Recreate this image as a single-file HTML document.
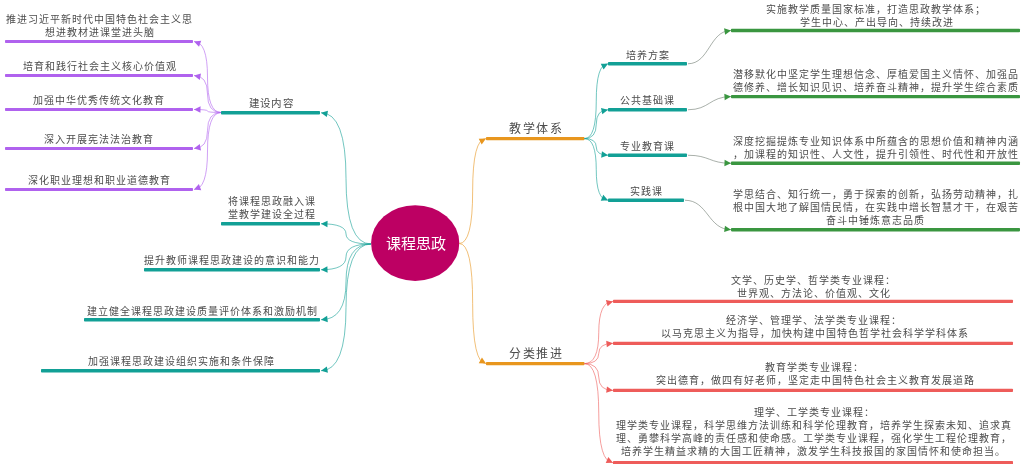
<!DOCTYPE html>
<html lang="zh-CN"><head><meta charset="utf-8"><style>
html,body{margin:0;padding:0;background:#fff;width:1024px;height:464px;overflow:hidden;position:relative}
svg{position:absolute;left:0;top:0}
.t{position:absolute;white-space:nowrap;font-family:"Liberation Serif",serif;line-height:1;transform:translateY(-50%);will-change:transform}
</style></head><body>
<svg width="1024" height="464" viewBox="0 0 1024 464">
<rect x="5" y="40" width="188" height="3" rx="0.8" fill="#b062ee"/>
<rect x="5" y="74" width="188" height="3" rx="0.8" fill="#b062ee"/>
<rect x="5" y="108" width="188" height="3" rx="0.8" fill="#b062ee"/>
<rect x="5" y="147" width="188" height="3" rx="0.8" fill="#b062ee"/>
<rect x="5" y="188" width="188" height="3" rx="0.8" fill="#b062ee"/>
<path d="M221,112.5 Q207.5,112.5 207.5,77.0 T194,41.5" fill="none" stroke="#b062ee" stroke-width="0.8" stroke-opacity="0.75"/>
<polygon points="194.00,41.50 201.22,40.63 199.02,46.75" fill="#b062ee"/>
<path d="M221,112.5 Q207.5,112.5 207.5,94.0 T194,75.5" fill="none" stroke="#b062ee" stroke-width="0.8" stroke-opacity="0.75"/>
<polygon points="194.00,75.50 201.00,73.56 199.75,79.94" fill="#b062ee"/>
<path d="M221,112.5 Q207.5,112.5 207.5,111.0 T194,109.5" fill="none" stroke="#b062ee" stroke-width="0.8" stroke-opacity="0.75"/>
<polygon points="194.00,109.50 200.55,106.36 200.45,112.86" fill="#b062ee"/>
<path d="M221,112.5 Q207.5,112.5 207.5,130.5 T194,148.5" fill="none" stroke="#b062ee" stroke-width="0.8" stroke-opacity="0.75"/>
<polygon points="194.00,148.50 199.78,144.09 200.99,150.48" fill="#b062ee"/>
<path d="M221,112.5 Q207.5,112.5 207.5,151.0 T194,189.5" fill="none" stroke="#b062ee" stroke-width="0.8" stroke-opacity="0.75"/>
<polygon points="194.00,189.50 198.88,184.12 201.24,190.17" fill="#b062ee"/>
<rect x="221" y="111" width="99" height="3.5" rx="0.8" fill="#12a096"/>
<path d="M371,244 Q346.0,244 346.0,178.375 T321,112.75" fill="none" stroke="#12a096" stroke-width="0.8" stroke-opacity="0.75"/>
<polygon points="321.00,112.75 327.98,110.72 326.81,117.11" fill="#12a096"/>
<rect x="221" y="222" width="99" height="3.5" rx="0.8" fill="#12a096"/>
<path d="M371,244 Q346.0,244 346.0,233.875 T321,223.75" fill="none" stroke="#12a096" stroke-width="0.8" stroke-opacity="0.75"/>
<polygon points="321.00,223.75 327.59,220.68 327.41,227.18" fill="#12a096"/>
<rect x="144" y="268" width="176" height="3.5" rx="0.8" fill="#12a096"/>
<path d="M371,244 Q346.0,244 346.0,256.875 T321,269.75" fill="none" stroke="#12a096" stroke-width="0.8" stroke-opacity="0.75"/>
<polygon points="321.00,269.75 327.38,266.27 327.61,272.77" fill="#12a096"/>
<rect x="84" y="318" width="236" height="3.5" rx="0.8" fill="#12a096"/>
<path d="M371,244 Q346.0,244 346.0,281.875 T321,319.75" fill="none" stroke="#12a096" stroke-width="0.8" stroke-opacity="0.75"/>
<polygon points="321.00,319.75 327.12,315.84 327.80,322.30" fill="#12a096"/>
<rect x="41" y="369" width="279" height="3.5" rx="0.8" fill="#12a096"/>
<path d="M371,244 Q346.0,244 346.0,307.375 T321,370.75" fill="none" stroke="#12a096" stroke-width="0.8" stroke-opacity="0.75"/>
<polygon points="321.00,370.75 326.84,366.42 327.97,372.82" fill="#12a096"/>
<ellipse cx="415.2" cy="243.1" rx="44.1" ry="37.9" fill="#bd0063"/>
<rect x="486" y="137" width="98.5" height="3.2" rx="0.8" fill="#e8961e"/>
<path d="M459.3,243.5 Q472.65,243.5 472.65,191.05 T486,138.6" fill="none" stroke="#e8961e" stroke-width="0.8" stroke-opacity="0.75"/>
<polygon points="486.00,138.60 481.69,144.45 478.73,138.66" fill="#e8961e"/>
<rect x="486" y="362" width="98.5" height="3.2" rx="0.8" fill="#e8961e"/>
<path d="M459.3,243.5 Q472.65,243.5 472.65,303.55 T486,363.6" fill="none" stroke="#e8961e" stroke-width="0.8" stroke-opacity="0.75"/>
<polygon points="486.00,363.60 478.74,363.20 481.96,357.56" fill="#e8961e"/>
<rect x="608" y="62" width="79" height="3.5" rx="0.8" fill="#12a096"/>
<path d="M584.5,138.6 Q596.25,138.6 596.25,101.175 T608,63.75" fill="none" stroke="#12a096" stroke-width="0.8" stroke-opacity="0.75"/>
<polygon points="608.00,63.75 603.58,69.52 600.73,63.67" fill="#12a096"/>
<rect x="608" y="108" width="79" height="3.5" rx="0.8" fill="#12a096"/>
<path d="M584.5,138.6 Q596.25,138.6 596.25,124.175 T608,109.75" fill="none" stroke="#12a096" stroke-width="0.8" stroke-opacity="0.75"/>
<polygon points="608.00,109.75 602.32,114.28 600.97,107.92" fill="#12a096"/>
<rect x="608" y="153.5" width="79" height="3.5" rx="0.8" fill="#12a096"/>
<path d="M584.5,138.6 Q596.25,138.6 596.25,146.925 T608,155.25" fill="none" stroke="#12a096" stroke-width="0.8" stroke-opacity="0.75"/>
<polygon points="608.00,155.25 601.15,157.67 601.95,151.22" fill="#12a096"/>
<rect x="608" y="198.5" width="76" height="3.5" rx="0.8" fill="#12a096"/>
<path d="M584.5,138.6 Q596.25,138.6 596.25,169.425 T608,200.25" fill="none" stroke="#12a096" stroke-width="0.8" stroke-opacity="0.75"/>
<polygon points="608.00,200.25 600.75,200.74 603.26,194.74" fill="#12a096"/>
<rect x="731" y="28.8" width="289" height="3.4" rx="0.8" fill="#3a9640"/>
<path d="M688,63.75 C709.5,63.75 709.5,30.5 731,30.5" fill="none" stroke="#6f7a70" stroke-width="0.8" stroke-opacity="0.75"/>
<polygon points="731.00,30.50 725.13,34.78 724.05,28.37" fill="#3a9640"/>
<rect x="731" y="94.9" width="289" height="3.4" rx="0.8" fill="#3a9640"/>
<path d="M688,109.75 C709.5,109.75 709.5,96.60000000000001 731,96.60000000000001" fill="none" stroke="#6f7a70" stroke-width="0.8" stroke-opacity="0.75"/>
<polygon points="731.00,96.60 724.73,100.27 724.30,93.79" fill="#3a9640"/>
<rect x="731" y="161.6" width="289" height="3.4" rx="0.8" fill="#3a9640"/>
<path d="M688,155.25 C709.5,155.25 709.5,163.29999999999998 731,163.29999999999998" fill="none" stroke="#6f7a70" stroke-width="0.8" stroke-opacity="0.75"/>
<polygon points="731.00,163.30 724.37,166.28 724.64,159.79" fill="#3a9640"/>
<rect x="731" y="228" width="289" height="3.4" rx="0.8" fill="#3a9640"/>
<path d="M685,200.25 C708.0,200.25 708.0,229.7 731,229.7" fill="none" stroke="#6f7a70" stroke-width="0.8" stroke-opacity="0.75"/>
<polygon points="731.00,229.70 724.15,232.12 724.95,225.67" fill="#3a9640"/>
<rect x="613" y="299.8" width="400" height="3.3" rx="0.8" fill="#ee5c5a"/>
<path d="M584.5,363.6 Q598.75,363.6 598.75,332.525 T613,301.45" fill="none" stroke="#ee5c5a" stroke-width="0.8" stroke-opacity="0.75"/>
<polygon points="613.00,301.45 607.63,306.35 605.86,300.10" fill="#ee5c5a"/>
<rect x="613" y="341.7" width="400" height="3.3" rx="0.8" fill="#ee5c5a"/>
<path d="M584.5,363.6 Q598.75,363.6 598.75,353.475 T613,343.34999999999997" fill="none" stroke="#ee5c5a" stroke-width="0.8" stroke-opacity="0.75"/>
<polygon points="613.00,343.35 606.84,347.21 606.22,340.74" fill="#ee5c5a"/>
<rect x="613" y="388.8" width="400" height="3.3" rx="0.8" fill="#ee5c5a"/>
<path d="M584.5,363.6 Q598.75,363.6 598.75,377.025 T613,390.45" fill="none" stroke="#ee5c5a" stroke-width="0.8" stroke-opacity="0.75"/>
<polygon points="613.00,390.45 606.14,392.85 606.97,386.40" fill="#ee5c5a"/>
<rect x="613" y="461" width="400" height="3.3" rx="0.8" fill="#ee5c5a"/>
<path d="M584.5,363.6 Q598.75,363.6 598.75,413.125 T613,462.65" fill="none" stroke="#ee5c5a" stroke-width="0.8" stroke-opacity="0.75"/>
<polygon points="613.00,462.65 605.74,463.07 608.31,457.10" fill="#ee5c5a"/>
</svg>
<div class="t" style="left:6px;top:20.0px;font-size:10px;letter-spacing:1.0px;color:#4c4c4c">推进习近平新时代中国特色社会主义思</div>
<div class="t" style="left:45px;top:33.0px;font-size:10px;letter-spacing:1.0px;color:#4c4c4c">想进教材进课堂进头脑</div>
<div class="t" style="left:23px;top:66.5px;font-size:10px;letter-spacing:1.0px;color:#4c4c4c">培育和践行社会主义核心价值观</div>
<div class="t" style="left:33px;top:101.0px;font-size:10px;letter-spacing:1.0px;color:#4c4c4c">加强中华优秀传统文化教育</div>
<div class="t" style="left:44px;top:140.25px;font-size:10px;letter-spacing:1.0px;color:#4c4c4c">深入开展宪法法治教育</div>
<div class="t" style="left:28px;top:181.0px;font-size:10px;letter-spacing:1.0px;color:#4c4c4c">深化职业理想和职业道德教育</div>
<div class="t" style="left:249px;top:104.0px;font-size:10.5px;letter-spacing:1.2px;color:#4c4c4c">建设内容</div>
<div class="t" style="left:228px;top:201.5px;font-size:10px;letter-spacing:1.0px;color:#4c4c4c">将课程思政融入课</div>
<div class="t" style="left:228px;top:214.5px;font-size:10px;letter-spacing:1.0px;color:#4c4c4c">堂教学建设全过程</div>
<div class="t" style="left:144px;top:261.25px;font-size:10px;letter-spacing:1.0px;color:#4c4c4c">提升教师课程思政建设的意识和能力</div>
<div class="t" style="left:87px;top:312.0px;font-size:10px;letter-spacing:1.0px;color:#4c4c4c">建立健全课程思政建设质量评价体系和激励机制</div>
<div class="t" style="left:87.75px;top:362.25px;font-size:10px;letter-spacing:1.0px;color:#4c4c4c">加强课程思政建设组织实施和条件保障</div>
<div class="t" style="left:386px;top:243.7px;font-size:15px;letter-spacing:0px;color:#fff">课程思政</div>
<div class="t" style="left:509px;top:128.5px;font-size:12px;letter-spacing:1.7px;color:#4c4c4c">教学体系</div>
<div class="t" style="left:509px;top:354.0px;font-size:12px;letter-spacing:1.7px;color:#4c4c4c">分类推进</div>
<div class="t" style="left:626px;top:55.5px;font-size:10px;letter-spacing:1.0px;color:#4c4c4c">培养方案</div>
<div class="t" style="left:620px;top:101.0px;font-size:10px;letter-spacing:1.0px;color:#4c4c4c">公共基础课</div>
<div class="t" style="left:620px;top:146.5px;font-size:10px;letter-spacing:1.0px;color:#4c4c4c">专业教育课</div>
<div class="t" style="left:629.75px;top:191.5px;font-size:10px;letter-spacing:1.0px;color:#4c4c4c">实践课</div>
<div class="t" style="left:766px;top:10.0px;font-size:10px;letter-spacing:1.0px;color:#4c4c4c">实施教学质量国家标准，打造思政教学体系；</div>
<div class="t" style="left:799.5px;top:22.5px;font-size:10px;letter-spacing:1.0px;color:#4c4c4c">学生中心、产出导向、持续改进</div>
<div class="t" style="left:733px;top:75.25px;font-size:10px;letter-spacing:1.0px;color:#4c4c4c">潜移默化中坚定学生理想信念、厚植爱国主义情怀、加强品</div>
<div class="t" style="left:733px;top:88.25px;font-size:10px;letter-spacing:1.0px;color:#4c4c4c">德修养、增长知识见识、培养奋斗精神，提升学生综合素质</div>
<div class="t" style="left:733px;top:141.5px;font-size:10px;letter-spacing:1.0px;color:#4c4c4c">深度挖掘提炼专业知识体系中所蕴含的思想价值和精神内涵</div>
<div class="t" style="left:733px;top:155.0px;font-size:10px;letter-spacing:1.0px;color:#4c4c4c">，加课程的知识性、人文性，提升引领性、时代性和开放性</div>
<div class="t" style="left:733px;top:195.25px;font-size:10px;letter-spacing:1.0px;color:#4c4c4c">学思结合、知行统一，勇于探索的创新，弘扬劳动精神，扎</div>
<div class="t" style="left:733px;top:208.0px;font-size:10px;letter-spacing:1.0px;color:#4c4c4c">根中国大地了解国情民情，在实践中增长智慧才干，在艰苦</div>
<div class="t" style="left:826px;top:221.0px;font-size:10px;letter-spacing:1.0px;color:#4c4c4c">奋斗中锤炼意志品质</div>
<div class="t" style="left:731px;top:280.5px;font-size:10px;letter-spacing:1.0px;color:#4c4c4c">文学、历史学、哲学类专业课程：</div>
<div class="t" style="left:737px;top:293.5px;font-size:10px;letter-spacing:1.0px;color:#4c4c4c">世界观、方法论、价值观、文化</div>
<div class="t" style="left:726px;top:321.0px;font-size:10px;letter-spacing:1.0px;color:#4c4c4c">经济学、管理学、法学类专业课程：</div>
<div class="t" style="left:660.5px;top:333.75px;font-size:10px;letter-spacing:1.0px;color:#4c4c4c">以马克思主义为指导，加快构建中国特色哲学社会科学学科体系</div>
<div class="t" style="left:765px;top:367.5px;font-size:10px;letter-spacing:1.0px;color:#4c4c4c">教育学类专业课程：</div>
<div class="t" style="left:655.5px;top:381.0px;font-size:10px;letter-spacing:1.0px;color:#4c4c4c">突出德育，做四有好老师，坚定走中国特色社会主义教育发展道路</div>
<div class="t" style="left:753.5px;top:413.25px;font-size:10px;letter-spacing:1.0px;color:#4c4c4c">理学、工学类专业课程：</div>
<div class="t" style="left:616px;top:426.0px;font-size:10px;letter-spacing:1.0px;color:#4c4c4c">理学类专业课程，科学思维方法训练和科学伦理教育，培养学生探索未知、追求真</div>
<div class="t" style="left:616px;top:438.75px;font-size:10px;letter-spacing:1.0px;color:#4c4c4c">理、勇攀科学高峰的责任感和使命感。工学类专业课程，强化学生工程伦理教育，</div>
<div class="t" style="left:621px;top:451.5px;font-size:10px;letter-spacing:1.0px;color:#4c4c4c">培养学生精益求精的大国工匠精神，激发学生科技报国的家国情怀和使命担当。</div>
</body></html>
